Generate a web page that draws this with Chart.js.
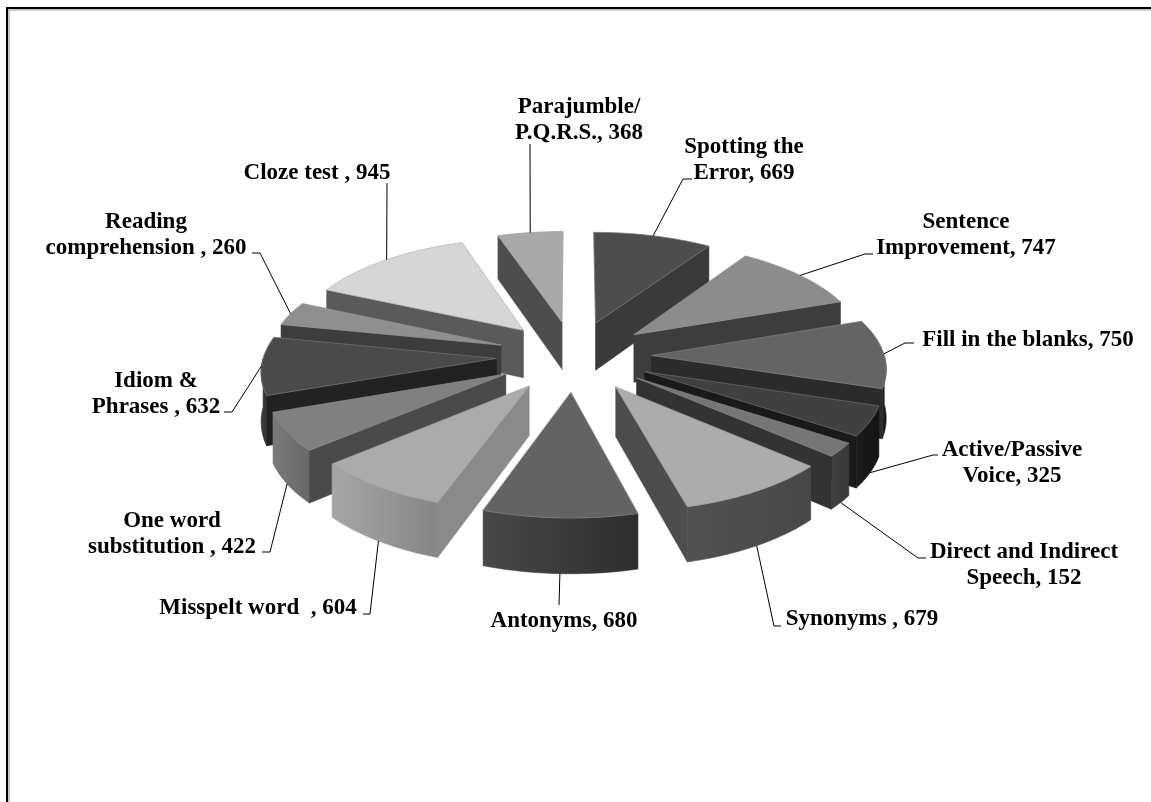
<!DOCTYPE html>
<html>
<head>
<meta charset="utf-8">
<title>Question distribution</title>
<script src="https://cdn.jsdelivr.net/npm/chart.js@4"></script>
<style>
  html, body { margin: 0; padding: 0; background: #fff; }
  #wrap { position: relative; width: 1151px; height: 802px; overflow: hidden; }
  canvas { display: block; }
  /* frame of the original picture: only top and left edges show */
  #frame { position: absolute; left: 6px; top: 7px; width: 1300px; height: 900px; border-left: 2px solid #000; border-top: 2px solid #000; box-shadow: inset 2px 2px 0 #c8c8c8; }
</style>
</head>
<body>
<div id="wrap">
  <canvas id="chart" width="1151" height="802"></canvas>
  <div id="frame"></div>
</div>
<script>
// Data, clockwise from 12 o'clock
const categories = ['Spotting the Error', 'Sentence Improvement', 'Fill in the blanks', 'Active/Passive Voice',
  'Direct and Indirect Speech', 'Synonyms', 'Antonyms', 'Misspelt word', 'One word substitution',
  'Idiom & Phrases', 'Reading comprehension', 'Cloze test', 'Parajumble/P.Q.R.S.'];
const values = [669, 747, 750, 325, 152, 679, 680, 604, 422, 632, 260, 945, 368];

// Label text, one entry per slice
const labelLines = [
  ['Spotting the', 'Error, 669'],
  ['Sentence', 'Improvement, 747'],
  ['Fill in the blanks, 750'],
  ['Active/Passive', 'Voice, 325'],
  ['Direct and Indirect', 'Speech, 152'],
  ['Synonyms , 679'],
  ['Antonyms, 680'],
  ['Misspelt word  , 604'],
  ['One word', 'substitution , 422'],
  ['Idiom &', 'Phrases , 632'],
  ['Reading', 'comprehension , 260'],
  ['Cloze test , 945'],
  ['Parajumble/', 'P.Q.R.S., 368']
];

// Styles
const topColors = ['#4d4d4d', '#8c8c8c', '#646464', '#404040', '#767676', '#acacac', '#636363', '#ababab', '#808080', '#4a4a4a', '#8f8f8f', '#d6d6d6', '#a9a9a9'];
const wallColors = ['#3a3a3a', '#3d3d3d', '#2b2b2b', '#1a1a1a', '#333333', '#4d4d4d', '#3a3a3a', '#8a8a8a', '#4a4a4a', '#222222', '#3d3d3d', '#5a5a5a', '#4d4d4d'];
const rimLeft = ['#3a3a3a', '#3d3d3d', '#1c1c1c', '#1c1c1c', '#404040', '#525252', '#484848', '#a6a6a6', '#7a7a7a', '#3a3a3a', '#3d3d3d', '#5a5a5a', '#4d4d4d'];
const rimRight = ['#3a3a3a', '#3d3d3d', '#1c1c1c', '#141414', '#383838', '#474747', '#2e2e2e', '#868686', '#686868', '#2e2e2e', '#3d3d3d', '#5a5a5a', '#4d4d4d'];

// Layout of the labels: centre x and first baseline of each text block
const labelCx = [744, 966, 1028, 1012, 1024, 862, 564, 258, 172, 156, 146, 317, 579];
const labelBase = [153, 228, 346, 456, 558, 625, 627, 614, 527, 387, 228, 179, 113];
const lineHeight = 26;
// Leader lines: where on the rim they start (0..1 across the slice), then their elbow points
const leaderAt = [0.5, 0.5, 0.5, 0.5, 0.5, 0.5, 0.5, 0.5, 0.5, 0.5, 0.5, 0.51, 0.5];
const leaderElbows = [
  [[683, 179], [692, 179]],
  [[865, 254], [873, 254]],
  [[905, 343], [914, 343]],
  [[933, 455], [938, 455]],
  [[918, 558], [926, 558]],
  [[774, 626], [781, 626]],
  [[559, 605]],
  [[370, 614], [363, 614]],
  [[270, 552], [262, 552]],
  [[232, 412], [224, 412]],
  [[260, 253], [252, 253]],
  [[387, 183]],
  [[530, 144]]
];

// Pie plane -> screen. The plane is tilted and seen in perspective
const persp = 0.13;    // how much nearer things grow
const flatten = 141;   // vertical half-size of the tilted disc
const squeeze = 0.97;  // horizontal size of the disc
const depth = 48.5;    // height of the extruded slices

function project(el, angle, radius, low) {
  const off = el.options.offset;
  const mid = (el.startAngle + el.endAngle) / 2;
  const dx = Math.cos(mid) * off + Math.cos(angle) * radius;
  const dy = Math.sin(mid) * off + Math.sin(angle) * radius;
  const u = dy / (el.outerRadius + off);
  const s = 1 / (1 - persp * u);
  return {
    x: el.x + dx * s * squeeze,
    y: el.y + flatten * u * s + (low ? depth * s : 0)
  };
}

function rimPoints(el, a0, a1, low) {
  const pts = [];
  const n = Math.max(2, Math.ceil((a1 - a0) / 0.03));
  for (let i = 0; i <= n; i++) {
    pts.push(project(el, a0 + (a1 - a0) * i / n, el.outerRadius, low));
  }
  return pts;
}

function fillPoly(ctx, pts, style) {
  ctx.beginPath();
  pts.forEach((p, i) => i ? ctx.lineTo(p.x, p.y) : ctx.moveTo(p.x, p.y));
  ctx.closePath();
  ctx.fillStyle = style;
  ctx.fill();
  ctx.strokeStyle = style;
  ctx.lineWidth = 0.6;
  ctx.stroke();
}

function drawSlice(ctx, el, i) {
  const a0 = el.startAngle, a1 = el.endAngle;
  const apex = project(el, a0, 0, false), apexLow = project(el, a0, 0, true);

  // rim, only the part that faces the viewer (sin > 0 on the canvas angle)
  const r0 = Math.max(a0, 0), r1 = Math.min(a1, Math.PI);
  if (r1 > r0) {
    const top = rimPoints(el, r0, r1, false), low = rimPoints(el, r0, r1, true);
    const g = ctx.createLinearGradient(top[top.length - 1].x, 0, top[0].x, 0);
    g.addColorStop(0, rimLeft[i]);
    g.addColorStop(1, rimRight[i]);
    fillPoly(ctx, top.concat(low.reverse()), g);
  }

  // flat sides, only when they face the viewer
  [[a0, Math.cos(a0) < 0], [a1, Math.cos(a1) > 0]].forEach(([side, visible]) => {
    if (!visible) return;
    const sTop = project(el, side, el.outerRadius, false), sLow = project(el, side, el.outerRadius, true);
    fillPoly(ctx, [apex, sTop, sLow, apexLow], wallColors[i]);
  });

  // top face
  const face = [apex].concat(rimPoints(el, a0, a1, false));
  fillPoly(ctx, face, el.options.backgroundColor);
  ctx.strokeStyle = 'rgba(150,150,150,0.55)';
  ctx.lineWidth = 0.7;
  ctx.stroke();
}

const pie3d = {
  id: 'pie3d',
  beforeDatasetsDraw(chart) {
    const ctx = chart.ctx;
    const arcs = chart.getDatasetMeta(0).data;
    // back slices first
    const order = arcs.map((el, i) => {
      const mid = (el.startAngle + el.endAngle) / 2;
      return { el, i, key: Math.sin(mid) };
    }).sort((a, b) => a.key - b.key);
    ctx.save();
    order.forEach(o => drawSlice(ctx, o.el, o.i));
    ctx.restore();
    return false;
  },
  afterDraw(chart) {
    const ctx = chart.ctx;
    const arcs = chart.getDatasetMeta(0).data;
    ctx.save();
    // leader lines
    ctx.strokeStyle = '#000';
    ctx.lineWidth = 1;
    arcs.forEach((el, i) => {
      const a = el.startAngle + (el.endAngle - el.startAngle) * leaderAt[i];
      const start = project(el, a, el.outerRadius, Math.sin(a) > 0.1);
      ctx.beginPath();
      ctx.moveTo(start.x, start.y);
      leaderElbows[i].forEach(p => ctx.lineTo(p[0], p[1]));
      ctx.stroke();
    });
    // labels
    ctx.fillStyle = '#000';
    ctx.font = 'bold 23px "Liberation Serif"';
    ctx.textAlign = 'center';
    ctx.textBaseline = 'alphabetic';
    labelLines.forEach((lines, i) => {
      lines.forEach((line, j) => ctx.fillText(line, labelCx[i], labelBase[i] + j * lineHeight));
    });
    ctx.restore();
  }
};

new Chart(document.getElementById('chart'), {
  type: 'pie',
  data: {
    labels: categories,
    datasets: [{
      data: values,
      backgroundColor: topColors,
      borderWidth: 0,
      offset: 80
    }]
  },
  options: {
    responsive: false,
    animation: false,
    radius: 240,
    layout: { padding: { left: 0, right: 3, top: 0, bottom: 90 } },
    plugins: { legend: { display: false }, tooltip: { enabled: false } }
  },
  plugins: [pie3d]
});
</script>
</body>
</html>
